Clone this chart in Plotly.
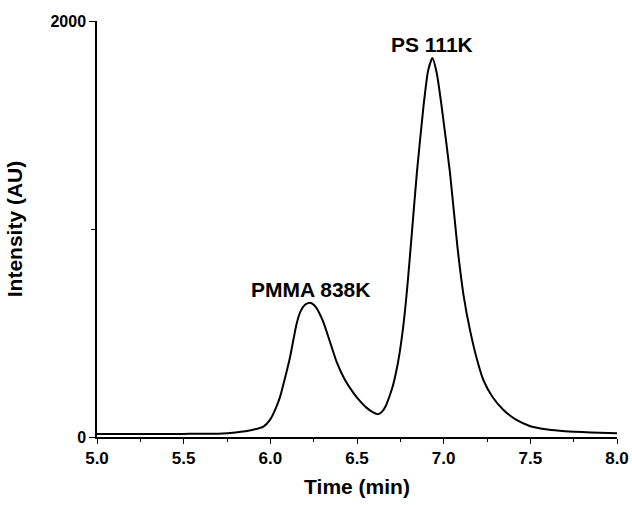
import plotly.graph_objects as go

time_min = [5.0, 5.25, 5.5, 5.7, 5.8, 5.9, 5.96, 6.0, 6.03, 6.056, 6.085, 6.114, 6.152,
            6.175, 6.2, 6.229, 6.255, 6.28, 6.306, 6.345, 6.383, 6.43, 6.479, 6.52,
            6.556, 6.59, 6.623, 6.645, 6.665, 6.685, 6.705, 6.725, 6.745, 6.768, 6.79,
            6.816, 6.845, 6.883, 6.91, 6.935, 6.96, 6.989, 7.037, 7.08, 7.115, 7.152,
            7.19, 7.229, 7.28, 7.345, 7.42, 7.5, 7.6, 7.7, 7.85, 8.0]
intensity = [15, 15, 15, 16, 22, 35, 50, 85, 135, 193, 285, 385, 546,
             605, 636, 645, 632, 600, 552, 455, 360, 275, 212, 170,
             140, 120, 110, 122, 148, 190, 240, 310, 400, 540, 720,
             975, 1266, 1585, 1760, 1822, 1750, 1585, 1266, 910, 680, 514,
             380, 274, 195, 130, 82, 52, 36, 28, 22, 18]

annotations_text = ["PMMA 838K", "PS 111K"]
annotations_x = [6.23, 6.935]
annotations_y = [645, 1822]

x_ticks = [5.0, 5.5, 6.0, 6.5, 7.0, 7.5, 8.0]
y_ticks = [0, 2000]

font_family = "Liberation Sans, Arial, sans-serif"

fig = go.Figure()
fig.add_trace(go.Scatter(
    x=time_min, y=intensity, mode="lines",
    line=dict(color="black", width=2, shape="spline", smoothing=0.6),
    hoverinfo="skip", showlegend=False,
))

for t, ax_x, ax_y in zip(annotations_text, annotations_x, annotations_y):
    fig.add_annotation(x=ax_x, y=ax_y, text=f"<b>{t}</b>", showarrow=False,
                       yanchor="bottom", yshift=0,
                       font=dict(family=font_family, size=21, color="black"))

fig.update_layout(
    width=632, height=505,
    margin=dict(l=97, r=15, t=21, b=68),
    paper_bgcolor="white", plot_bgcolor="white",
    font=dict(family=font_family, color="black"),
)

fig.update_xaxes(
    range=[5.0, 8.0], tickvals=x_ticks,
    ticktext=[f"<b>{v:.1f}</b>" for v in x_ticks],
    ticks="outside", ticklen=5, tickwidth=1.3, tickcolor="black",
    minor=dict(dtick=0.25, ticks="outside", ticklen=3, tickcolor="black", tickwidth=1.3, showgrid=False),
    showline=True, linecolor="black", linewidth=1.5, showgrid=False, zeroline=False,
    tickfont=dict(size=17, family=font_family), automargin=False,
    title=dict(text="<b>Time (min)</b>", font=dict(size=21, family=font_family), standoff=12),
)
fig.update_yaxes(
    range=[0, 2000], tickvals=y_ticks,
    ticktext=[f"<b>{v}</b>" for v in y_ticks],
    ticks="outside", ticklen=6, tickwidth=1.3, tickcolor="black",
    minor=dict(tickvals=[1000], ticks="outside", ticklen=4, tickcolor="black", tickwidth=1.3, showgrid=False),
    showline=True, linecolor="black", linewidth=1.5, showgrid=False, zeroline=False,
    tickfont=dict(size=16, family=font_family), automargin=False,
    title=dict(text="<b>Intensity (AU)</b>", font=dict(size=21, family=font_family), standoff=22),
)

fig.write_html("out.html", config={"displayModeBar": False},
               post_script="document.body.style.margin='0';")
